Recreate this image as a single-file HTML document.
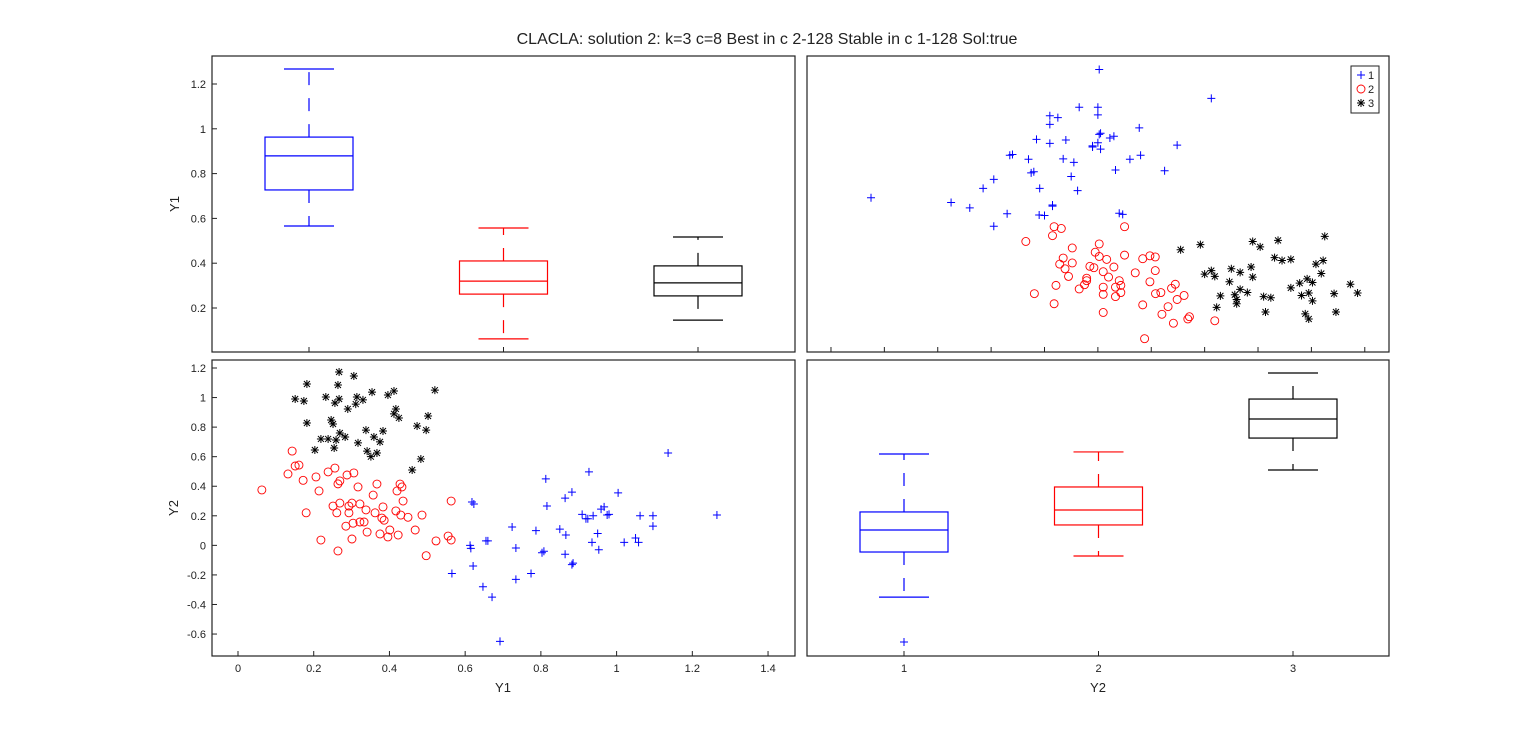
<!DOCTYPE html>
<html><head><meta charset="utf-8"><style>
html,body{margin:0;padding:0;background:#fff;}
svg{display:block;font-family:"Liberation Sans",sans-serif;}
</style></head><body>
<svg id="fig" width="1536" height="744" viewBox="0 0 1536 744" xmlns="http://www.w3.org/2000/svg">
<rect width="1536" height="744" fill="#fff"/>
<text x="767" y="44" font-size="16" text-anchor="middle" fill="#222">CLACLA: solution 2: k=3 c=8 Best in c 2-128 Stable in c 1-128 Sol:true</text>
<g id="plots"></g>
</svg>
<script>
// ---- data (Y1, Y2 pairs per cluster) ----
const g1Y1=[1.136,1.265,1.096,1.096,1.004,0.927,0.813,0.882,0.864,0.816,0.85,0.909,0.938,0.959,0.967,0.975,0.98,1.062,1.02,1.05,1.058,0.935,0.95,0.953,0.919,0.924,0.866,0.864,0.885,0.882,0.808,0.803,0.787,0.734,0.724,0.618,0.623,0.613,0.615,0.621,0.655,0.66,0.565,0.647,0.671,0.692,0.734,0.774];
const g1Y2=[0.625,0.205,0.2,0.13,0.355,0.497,0.45,0.36,0.32,0.266,0.11,0.21,0.2,0.245,0.26,0.205,0.21,0.2,0.02,0.05,0.02,0.02,0.08,-0.03,0.18,0.18,0.07,-0.06,-0.12,-0.13,-0.04,-0.05,0.1,-0.018,0.124,0.293,0.28,0.0,-0.02,-0.14,0.03,0.03,-0.19,-0.28,-0.35,-0.65,-0.23,-0.19];
const g2Y1=[0.143,0.151,0.161,0.132,0.172,0.206,0.238,0.256,0.288,0.306,0.269,0.264,0.063,0.214,0.317,0.367,0.357,0.42,0.428,0.433,0.436,0.563,0.18,0.251,0.269,0.261,0.293,0.293,0.301,0.322,0.338,0.362,0.383,0.38,0.386,0.417,0.43,0.449,0.486,0.285,0.304,0.322,0.333,0.401,0.375,0.341,0.396,0.423,0.468,0.301,0.219,0.264,0.497,0.523,0.555,0.563];
const g2Y2=[0.638,0.537,0.543,0.483,0.44,0.463,0.497,0.523,0.476,0.49,0.436,0.416,0.375,0.368,0.395,0.415,0.34,0.368,0.415,0.395,0.3,0.3,0.22,0.266,0.286,0.22,0.266,0.22,0.286,0.28,0.24,0.22,0.26,0.185,0.17,0.233,0.205,0.19,0.205,0.13,0.15,0.158,0.158,0.104,0.077,0.09,0.057,0.07,0.104,0.043,0.036,-0.038,-0.07,0.03,0.063,0.036];
const g3Y1=[0.267,0.306,0.182,0.264,0.151,0.174,0.232,0.256,0.267,0.29,0.311,0.314,0.33,0.354,0.396,0.412,0.52,0.417,0.412,0.425,0.502,0.473,0.497,0.182,0.246,0.251,0.269,0.283,0.259,0.238,0.219,0.203,0.254,0.317,0.338,0.359,0.375,0.383,0.341,0.351,0.367,0.483,0.46];
const g3Y2=[1.173,1.146,1.092,1.085,0.99,0.977,1.004,0.963,0.99,0.923,0.956,1.004,0.984,1.037,1.017,1.044,1.05,0.923,0.89,0.862,0.875,0.808,0.78,0.828,0.848,0.821,0.76,0.733,0.713,0.72,0.72,0.645,0.659,0.693,0.78,0.733,0.7,0.774,0.638,0.6,0.625,0.584,0.51];
// box stats: [lowWhisker, q1, median, q3, highWhisker]
const boxY1=[[0.566,0.727,0.879,0.963,1.267],[0.062,0.262,0.32,0.41,0.557],[0.146,0.254,0.312,0.388,0.517]];
const boxY2=[[-0.35,-0.045,0.104,0.226,0.618],[-0.072,0.138,0.239,0.395,0.632],[0.51,0.726,0.855,0.99,1.166]];
const outY2=[[-0.654],[],[]];
const yTicksY1=[0.2,0.4,0.6,0.8,1,1.2];
const yTicksY2=[-0.6,-0.4,-0.2,0,0.2,0.4,0.6,0.8,1,1.2];
const xTicksY1=[0,0.2,0.4,0.6,0.8,1,1.2,1.4];
const xTicksTR=[-0.8,-0.6,-0.4,-0.2,0,0.2,0.4,0.6,0.8,1,1.2];
const cats=[1,2,3];
const colors=['#0000ff','#ff0000','#000000'];

// ---- axis functions ----
const yY1=v=>308-(v-0.2)*224;
const yY2=v=>368+(1.2-v)*147.8;
const xY1=v=>238+v*378.6;
const xTR=v=>1044.5+v*266.9;
const xCatL=c=>309+(c-1)*194.5;
const xCatR=c=>904+(c-1)*194.5;

const NS='http://www.w3.org/2000/svg';
const root=document.getElementById('plots');
function el(tag,attrs,parent){const e=document.createElementNS(NS,tag);for(const k in attrs)e.setAttribute(k,attrs[k]);(parent||root).appendChild(e);return e;}

function panel(x0,y0,x1,y1,name){
  const g=el('g',{});
  
  
  const r=el('rect',{x:x0,y:y0,width:x1-x0,height:y1-y0,fill:'none',stroke:'#222','stroke-width':1.2},g);
  
  
  return g;
}
function yTicks(g,ticks,fy,x0,labels){
  ticks.forEach(t=>{const y=fy(t);
    el('line',{x1:x0,y1:y,x2:x0+5,y2:y,stroke:'#222'},g);
    if(labels){const tx=el('text',{x:x0-6,y:y+4,'font-size':11,'text-anchor':'end',fill:'#222'},g);tx.textContent=String(t);
      
      }
  });
}
function xTicks(g,ticks,fx,y0,labels){
  ticks.forEach(t=>{const x=fx(t);
    el('line',{x1:x,y1:y0,x2:x,y2:y0-5,stroke:'#222'},g);
    if(labels){const tx=el('text',{x:x,y:y0+16,'font-size':11,'text-anchor':'middle',fill:'#222'},g);tx.textContent=String(t);
      
      }
  });
}
function marker(g,k,x,y){
  const c=colors[k];let m;
  if(k===0){m=el('path',{d:`M${x-4},${y}H${x+4}M${x},${y-4}V${y+4}`,stroke:c,'stroke-width':1,fill:'none'},g);}
  else if(k===1){m=el('circle',{cx:x,cy:y,r:4,stroke:c,'stroke-width':0.9,fill:'none'},g);}
  else{m=el('path',{d:`M${x-4},${y}H${x+4}M${x},${y-4}V${y+4}M${x-3},${y-3}L${x+3},${y+3}M${x-3},${y+3}L${x+3},${y-3}`,stroke:c,'stroke-width':1,fill:'none'},g);}
  
  
}
function boxes(g,stats,fx,fy,outs){
  stats.forEach((s,i)=>{
    const bg=el('g',{},g);
    
    
    const cx=fx(cats[i]),c=colors[i],hw=44,cw=25;
    el('rect',{x:cx-hw,y:fy(s[3]),width:2*hw,height:fy(s[1])-fy(s[3]),fill:'none',stroke:c,'stroke-width':1.2},bg);
    el('line',{x1:cx-hw,x2:cx+hw,y1:fy(s[2]),y2:fy(s[2]),stroke:c,'stroke-width':1.2},bg);
    el('line',{x1:cx,x2:cx,y1:fy(s[3]),y2:fy(s[4]),stroke:c,'stroke-width':1.2,'stroke-dasharray':'13,13'},bg);
    el('line',{x1:cx,x2:cx,y1:fy(s[1]),y2:fy(s[0]),stroke:c,'stroke-width':1.2,'stroke-dasharray':'13,13'},bg);
    el('line',{x1:cx-cw,x2:cx+cw,y1:fy(s[4]),y2:fy(s[4]),stroke:c,'stroke-width':1.2},bg);
    el('line',{x1:cx-cw,x2:cx+cw,y1:fy(s[0]),y2:fy(s[0]),stroke:c,'stroke-width':1.2},bg);
    (outs[i]||[]).forEach(o=>marker(bg,0,cx,fy(o)));
  });
}
function label(x,y,txt,rot,name){
  const t=el('text',{x:x,y:y,'font-size':13,'text-anchor':'middle',fill:'#222'});
  if(rot)t.setAttribute('transform',`rotate(-90 ${x} ${y})`);
  t.textContent=txt;
  
  
}
const G1=[g1Y1,g1Y2],G2=[g2Y1,g2Y2],G3=[g3Y1,g3Y2];const groups=[G1,G2,G3];

// top-left: boxplot Y1
const tl=panel(212,56,795,352,'boxplot-y1-panel');
yTicks(tl,yTicksY1,yY1,212,true);
xTicks(tl,cats,xCatL,352,false);
boxes(tl,boxY1,xCatL,yY1,[[],[],[]]);
label(179,204,'Y1',true,'y-axis-title-y1');

// top-right: scatter Y1 vs Y2
const tr=panel(807,56,1389,352,'scatter-y1-vs-y2-panel');
xTicks(tr,xTicksTR,xTR,352,false);
groups.forEach((G,k)=>G[0].forEach((v,i)=>marker(tr,k,xTR(G[1][i]),yY1(v))));
const lg=el('g',{},tr);


el('rect',{x:1351,y:66,width:28,height:47,fill:'#fff',stroke:'#222','stroke-width':1},lg);
['1','2','3'].forEach((s,k)=>{marker(lg,k,1361,75+k*14);
  const t=el('text',{x:1368,y:79+k*14,'font-size':11,fill:'#222'},lg);t.textContent=s;
  
  });

// bottom-left: scatter Y2 vs Y1
const bl=panel(212,360,795,656,'scatter-y2-vs-y1-panel');
yTicks(bl,yTicksY2,yY2,212,true);
xTicks(bl,xTicksY1,xY1,656,true);
groups.forEach((G,k)=>G[0].forEach((v,i)=>marker(bl,k,xY1(v),yY2(G[1][i]))));
label(178,508,'Y2',true,'y-axis-title-y2');
label(503,692,'Y1',false,'x-axis-title-y1');

// bottom-right: boxplot Y2
const br=panel(807,360,1389,656,'boxplot-y2-panel');
xTicks(br,cats,xCatR,656,true);
boxes(br,boxY2,xCatR,yY2,outY2);
label(1098,692,'Y2',false,'x-axis-title-y2');
</script>
</body></html>
